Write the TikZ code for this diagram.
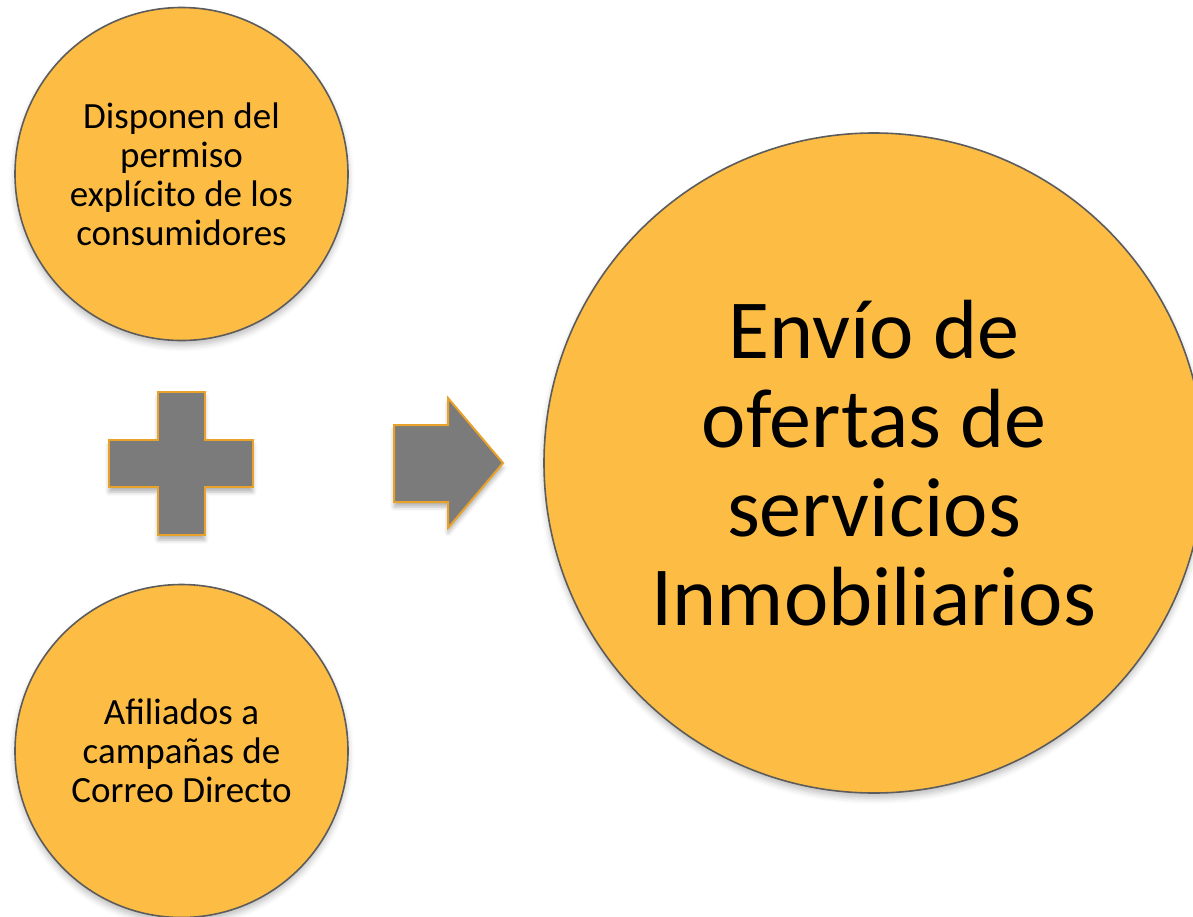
\documentclass[tikz,border=0pt]{standalone}
\usepackage{fontspec}
\setmainfont{Carlito}
\usetikzlibrary{positioning, shadows.blur}

\definecolor{circfill}{HTML}{FDBD45}
\definecolor{circedge}{HTML}{5C5C5C}
\definecolor{symfill}{HTML}{7B7B7B}
\definecolor{symedge}{HTML}{E8A22A}

\begin{document}
\begin{tikzpicture}[
        x=1pt, y=-1pt,
        bubble/.style={circle, draw=circedge, line width=1.6pt, fill=circfill, align=center, inner sep=0pt,
            blur shadow={shadow xshift=0pt, shadow yshift=-5pt, shadow opacity=25, shadow blur radius=6pt}},
        small/.style={bubble, minimum size=333pt, font=\fontsize{37}{39}\selectfont},
        big/.style={bubble, minimum size=660pt, font=\fontsize{84}{89}\selectfont},
        symbol/.style={draw=symedge, line width=2pt, fill=symfill, line join=miter,
            blur shadow={shadow xshift=0pt, shadow yshift=-5pt, shadow opacity=30, shadow blur radius=4pt}}
    ]
    \useasboundingbox (0,0) rectangle (1193,916);

    \node[small] (permiso) at (181.5,174) {Disponen del\\permiso\\explícito de los\\consumidores};
    \node[small] (correo) at (181.5,751) {Afiliados a\\campañas de\\Correo Directo};
    \node[big] (envio) at (874,463) {Envío de\\ofertas de\\servicios\\Inmobiliarios};

    % plus sign
    \draw[symbol] (158,392) -- (205,392) -- (205,440) -- (253,440) -- (253,487) -- (205,487)
        -- (205,535) -- (158,535) -- (158,487) -- (109,487) -- (109,440) -- (158,440) -- cycle;

    % arrow
    \draw[symbol] (394,425) -- (448,425) -- (448,398) -- (503,463) -- (448,528) -- (448,502)
        -- (394,502) -- cycle;
\end{tikzpicture}
\end{document}
